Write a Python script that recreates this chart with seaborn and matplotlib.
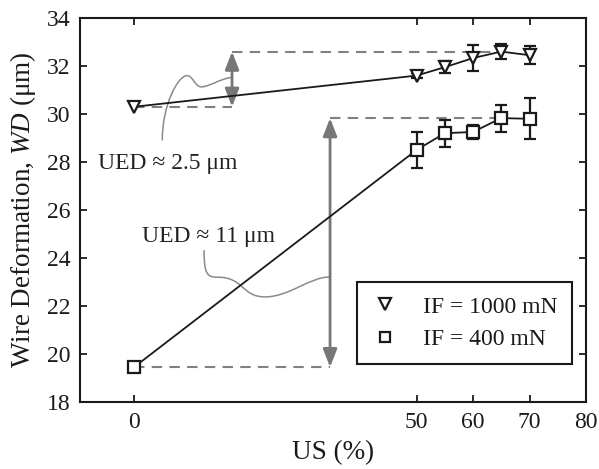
import matplotlib
matplotlib.use("Agg")
import matplotlib.pyplot as plt
import seaborn as sns
import numpy as np
import pandas as pd
from matplotlib.path import Path
from matplotlib.patches import PathPatch
from matplotlib.lines import Line2D

# ---- data ----
us = [0, 50, 55, 60, 65, 70]
wd_1000 = [30.3, 31.6, 31.95, 32.33, 32.6, 32.45]
err_1000 = [0.0, 0.1, 0.25, 0.55, 0.3, 0.38]
wd_400 = [19.45, 28.5, 29.2, 29.25, 29.83, 29.8]
err_400 = [0.0, 0.75, 0.56, 0.3, 0.56, 0.85]
labels = ["IF = 1000 mN", "IF = 400 mN"]
xticks = [0, 50, 60, 70, 80]
yticks = list(range(18, 35, 2))

sns.set_theme(style="ticks")
plt.rcParams["font.family"] = ["Liberation Serif", "DejaVu Serif"]
plt.rcParams["mathtext.fontset"] = "custom"
plt.rcParams["mathtext.rm"] = "Liberation Serif"
plt.rcParams["mathtext.it"] = "Liberation Serif:italic"

FS = 17
FSL = 19.5
fig = plt.figure(figsize=(5.99, 4.69), dpi=100)
ax = fig.add_axes([80 / 599, 67 / 469, 506 / 599, 384 / 469])

df1 = pd.DataFrame({"US": us, "WD": wd_1000})
df2 = pd.DataFrame({"US": us, "WD": wd_400})

gray = "#808080"
# annotation dashed lines
ax.hlines(wd_1000[0], 0, 17.35, colors=gray, linestyles=(0, (5, 3.5)), lw=1.5, zorder=1)
ax.hlines(max(wd_1000), 17.35, 65, colors=gray, linestyles=(0, (5, 3.5)), lw=1.5, zorder=1)
ax.hlines(wd_400[0], 0, 34.7, colors=gray, linestyles=(0, (5, 3.5)), lw=1.5, zorder=1)
ax.hlines(max(wd_400), 34.7, 65, colors=gray, linestyles=(0, (5, 3.5)), lw=1.5, zorder=1)

arrow_kw = dict(arrowstyle="<|-|>,head_length=0.9,head_width=0.35", color="#777777", lw=2,
                shrinkA=0, shrinkB=0)
ax.annotate("", xy=(17.35, max(wd_1000)), xytext=(17.35, wd_1000[0]), arrowprops=arrow_kw, zorder=2)
ax.annotate("", xy=(34.7, max(wd_400)), xytext=(34.7, wd_400[0]), arrowprops=arrow_kw, zorder=2)

# curvy leader lines
up_verts = [(5.0, 28.9), (5.0, 30.4), (7.8, 31.6), (9.4, 31.6),
            (10.4, 31.6), (10.8, 31.13), (11.9, 31.13),
            (13.3, 31.13), (15.5, 31.5), (17.3, 31.52)]
lo_verts = [(12.4, 24.33), (12.4, 23.3), (13.0, 23.2), (14.8, 23.2),
            (19.5, 23.2), (19.0, 22.38), (23.2, 22.38),
            (27.5, 22.38), (31.0, 23.2), (34.6, 23.21)]
codes = [Path.MOVETO] + [Path.CURVE4] * 9
for v in (up_verts, lo_verts):
    ax.add_patch(PathPatch(Path(v, codes), fill=False, ec="#8a8a8a", lw=1.1, zorder=1))

ax.text(6.0, 27.95, "UED ≈ 2.5 μm", fontsize=FS, ha="center", va="center", color="#222222")
ax.text(13.1, 24.9, "UED ≈ 11 μm", fontsize=FS, ha="center", va="center", color="#222222")

# data lines
sns.lineplot(data=df1, x="US", y="WD", ax=ax, color="#1a1a1a", lw=1.3, marker="v",
             markersize=9, markerfacecolor="white", markeredgecolor="#1a1a1a",
             markeredgewidth=1.6, zorder=4)
sns.lineplot(data=df2, x="US", y="WD", ax=ax, color="#1a1a1a", lw=1.3, marker="s",
             markersize=8, markerfacecolor="white", markeredgecolor="#1a1a1a",
             markeredgewidth=1.6, zorder=4)
for y, e in ((wd_1000, err_1000), (wd_400, err_400)):
    ax.errorbar(us[1:], y[1:], yerr=e[1:], fmt="none", ecolor="#1a1a1a",
                elinewidth=1.6, capsize=4, capthick=1.6, zorder=3)

ax.set_xlim(-9.56, 80)
ax.set_ylim(18, 34)
ax.set_xticks(xticks)
ax.set_yticks(yticks)
ax.tick_params(direction="in", length=5, width=1.3, labelsize=FS, top=True, right=True,
               colors="#1a1a1a", pad=7)
for s in ax.spines.values():
    s.set_linewidth(1.5)
    s.set_color("#1a1a1a")
ax.set_xlabel("US (%)", fontsize=FSL, color="#1a1a1a", labelpad=5)
ax.set_ylabel(r"Wire Deformation, $\mathit{WD}$ (μm)", fontsize=FSL, color="#1a1a1a", labelpad=6)

handles = [Line2D([], [], ls="none", marker="v", ms=8, mfc="white", mec="#1a1a1a", mew=1.6),
           Line2D([], [], ls="none", marker="s", ms=7, mfc="white", mec="#1a1a1a", mew=1.6)]
leg = ax.legend(handles, labels, loc="upper left", bbox_to_anchor=(0.547, 0.3125),
                borderaxespad=0, fancybox=False, framealpha=1, edgecolor="#1a1a1a",
                fontsize=FS, handlelength=1.2, handletextpad=1.0, borderpad=0.6,
                labelspacing=0.45)
leg.get_frame().set_linewidth(1.5)
for t in leg.get_texts():
    t.set_color("#1a1a1a")

fig.savefig("out.png", dpi=100)
